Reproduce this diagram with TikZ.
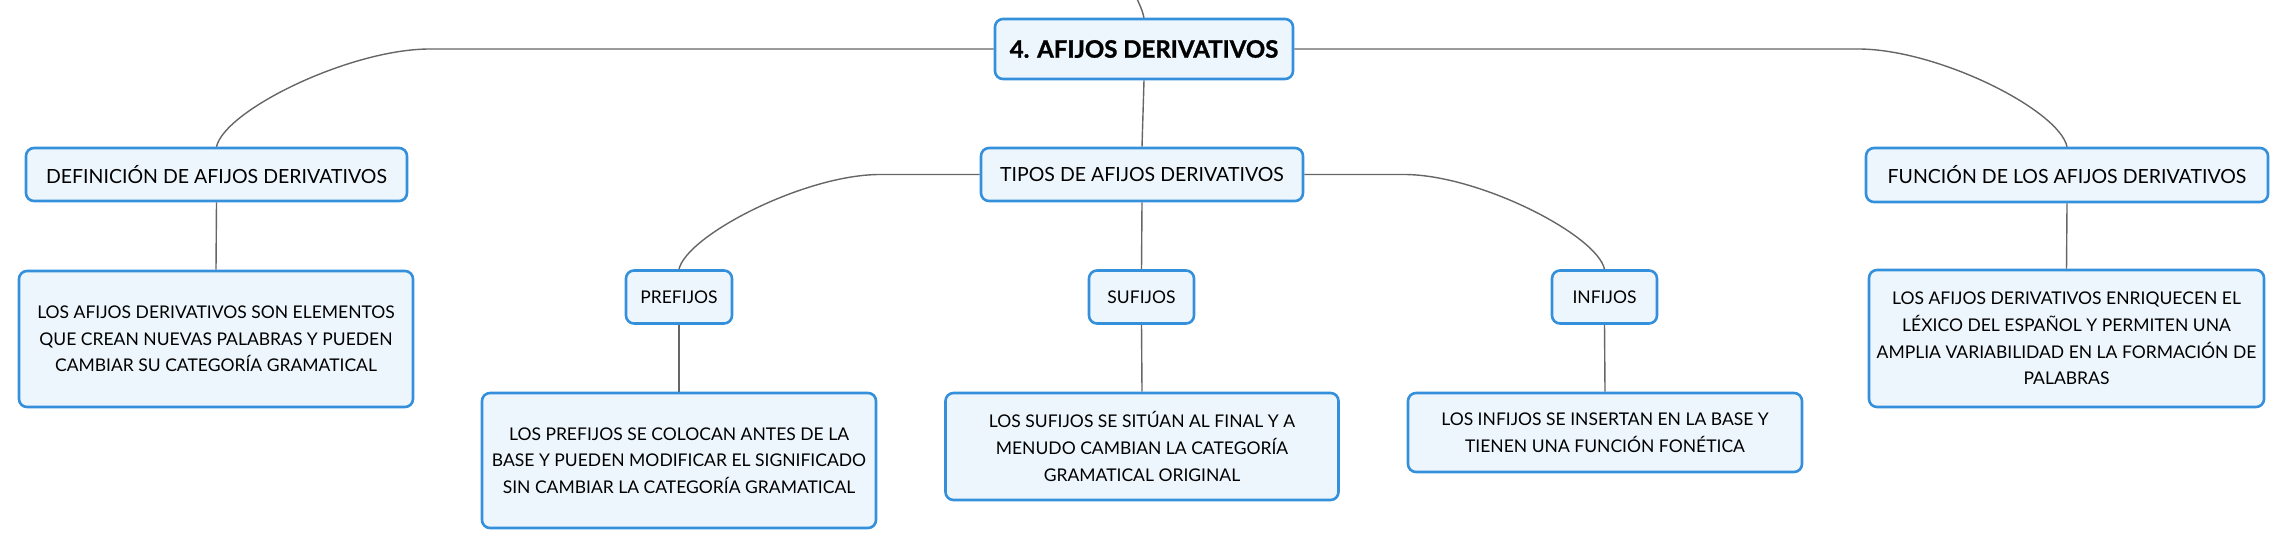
\documentclass[tikz,border=0pt]{standalone}
\usepackage{fontspec}
\setmainfont{Lato}
\newfontfamily\titlefont{Lato}[BoldFeatures={FakeBold=1.2}]
\definecolor{boxblue}{HTML}{3590DC}
\definecolor{boxfill}{HTML}{EEF6FD}
\definecolor{linegray}{HTML}{666666}
\begin{document}
\begin{tikzpicture}[x=1pt,y=-1pt,
  box/.style={draw=boxblue, line width=2.6pt, fill=boxfill, rounded corners=8pt,
    align=center, inner sep=0pt, font=\fontsize{17.5}{26.7}\selectfont},
  head/.style={box, font=\fontsize{19.5}{24}\selectfont},
  link/.style={draw=linegray, line width=1.4pt}]
\useasboundingbox (0,0) rectangle (2288,549);
% nodes
\node[box, minimum width=298pt, minimum height=60pt, font=\fontsize{24}{28}\titlefont\bfseries] (root) at (1144,49) {4. AFIJOS DERIVATIVOS};
\node[head, minimum width=381pt, minimum height=53pt] (def) at (216.5,174.5) {DEFINICIÓN DE AFIJOS DERIVATIVOS};
\node[head, minimum width=322pt, minimum height=53pt] (tipos) at (1142,174.5) {TIPOS DE AFIJOS DERIVATIVOS};
\node[head, minimum width=402pt, minimum height=54pt] (func) at (2067,175) {FUNCIÓN DE LOS AFIJOS DERIVATIVOS};
\node[box, minimum width=394pt, minimum height=136pt] (deft) at (216,339) {LOS AFIJOS DERIVATIVOS SON ELEMENTOS\\QUE CREAN NUEVAS PALABRAS Y PUEDEN\\CAMBIAR SU CATEGORÍA GRAMATICAL};
\node[box, minimum width=106pt, minimum height=53pt] (pre) at (679,297) {PREFIJOS};
\node[box, minimum width=105pt, minimum height=53pt] (suf) at (1141.5,297) {SUFIJOS};
\node[box, minimum width=105pt, minimum height=53pt] (inf) at (1604.5,297) {INFIJOS};
\node[box, minimum width=394pt, minimum height=135pt] (pret) at (679,460.5) {LOS PREFIJOS SE COLOCAN ANTES DE LA\\BASE Y PUEDEN MODIFICAR EL SIGNIFICADO\\SIN CAMBIAR LA CATEGORÍA GRAMATICAL};
\node[box, minimum width=393pt, minimum height=107pt] (suft) at (1142,446.5) {LOS SUFIJOS SE SITÚAN AL FINAL Y A\\MENUDO CAMBIAN LA CATEGORÍA\\GRAMATICAL ORIGINAL};
\node[box, minimum width=394pt, minimum height=79pt] (inft) at (1605,432.5) {LOS INFIJOS SE INSERTAN EN LA BASE Y\\TIENEN UNA FUNCIÓN FONÉTICA};
\node[box, minimum width=395pt, minimum height=137pt] (funct) at (2066.5,338.5) {LOS AFIJOS DERIVATIVOS ENRIQUECEN EL\\LÉXICO DEL ESPAÑOL Y PERMITEN UNA\\AMPLIA VARIABILIDAD EN LA FORMACIÓN DE\\PALABRAS};
% connectors
\coordinate (topend) at (1137.5,0);
\draw[link] (root.north) .. controls (1142,10) .. (topend);
\draw[link] (root.west) -- (430,49) .. controls (350,49) and (225,110) .. (def.north);
\draw[link] (root.east) -- (1858,49) .. controls (1938,49) and (2059,110) .. (func.north);
\draw[link] (root.south) -- (tipos.north);
\draw[link] (tipos.west) -- (880,174.5) .. controls (805,174.5) and (687,235) .. (pre.north);
\draw[link] (tipos.east) -- (1404,174.5) .. controls (1479,174.5) and (1597,235) .. (inf.north);
\draw[link] (tipos.south) -- (suf.north);
\draw[link] (def.south) -- (deft.north);
\draw[link] (func.south) -- (funct.north);
\draw[link] (pre.south) -- (pret.north);
\draw[link] (suf.south) -- (suft.north);
\draw[link] (inf.south) -- (inft.north);
\end{tikzpicture}
\end{document}
